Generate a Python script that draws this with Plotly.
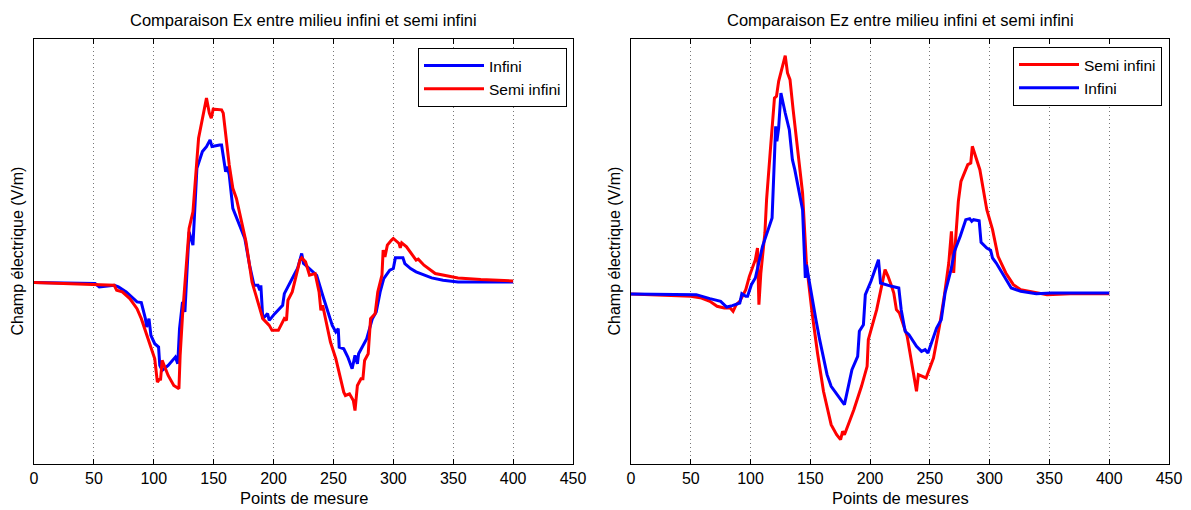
import plotly.graph_objects as go

# ---------------- Data (arbitrary field units; no y tick labels in source) ----------------
ex_inf_x = [0, 51, 54.5, 67, 70.5, 77, 86, 89.6, 93, 94, 96, 97.6, 100.8, 104, 105, 107, 112, 118, 120,
            121.5, 124, 126, 128, 129.5, 132.7, 134, 136, 140.6, 144, 147, 148.6, 155, 156.6, 160, 161.4,
            163, 166, 176, 180, 183.7, 187, 188.5, 189.4, 191, 195, 196.4, 201, 207.6, 209, 217, 220,
            223.5, 225, 226.7, 231.5, 233, 236, 241, 249, 252, 254, 254.8, 258.6, 262, 265.6, 268, 270,
            271, 277.8, 282.5, 285.7, 289, 292, 297, 300, 301.7, 308, 309.6, 314.4, 319, 325.6, 332,
            341.5, 354, 400]
ex_inf_y = [0, -0.03, -0.13, -0.08, -0.13, -0.28, -0.58, -0.60, -1.08, -1.33, -1.08, -1.58, -1.83, -1.93,
            -2.48, -2.63, -2.48, -2.23, -2.43, -1.38, -0.58, -0.88, 0.52, 1.52, 1.12, 2.12, 3.42, 3.92,
            4.07, 4.27, 4.07, 4.12, 4.12, 3.32, 3.47, 3.22, 2.22, 1.32, 0.52, -0.08, -0.08, -0.23, -0.08,
            -1.08, -0.93, -1.13, -0.93, -0.68, -0.33, 0.22, 0.42, 0.87, 0.57, 0.52, 0.37, 0.32, 0.22,
            -0.38, -1.28, -1.48, -1.38, -1.93, -1.98, -2.23, -2.58, -2.18, -2.43, -2.13, -1.68, -1.08,
            -0.88, -0.28, 0.12, 0.37, 0.42, 0.74, 0.74, 0.57, 0.42, 0.32, 0.22, 0.14, 0.07, 0.02, 0.02]

ex_semi_x = [0, 67, 69, 73.7, 80, 86, 89.6, 94, 100.8, 103, 105, 105.6, 107, 112, 116.7, 121, 122, 124,
             128, 129.5, 132.7, 137.4, 144, 146.4, 148, 149.6, 156.6, 158, 163, 166, 169, 177, 182, 191,
             196.4, 198.7, 204, 209, 210.8, 212, 215.6, 220, 222, 223.5, 226.7, 230, 234.7, 238, 239.5,
             241, 247.5, 252, 258.6, 260, 263.4, 266.6, 268, 270, 273, 274.6, 276, 279, 281, 284.8, 287,
             290.5, 291.5, 293, 295, 298.5, 300, 304.8, 305.8, 307, 311, 316, 319, 320.8, 325.6, 335,
             354, 373, 400]
ex_semi_y = [0, -0.08, -0.23, -0.28, -0.48, -0.78, -1.08, -1.58, -2.28, -2.98, -2.88, -2.93, -2.33, -2.78,
             -3.08, -3.18, -2.18, -0.98, 0.92, 1.62, 2.12, 4.32, 5.52, 5.07, 4.92, 5.19, 5.17, 5.07, 3.52,
             2.82, 2.52, 1.22, 0.02, -1.08, -1.28, -1.43, -1.43, -1.08, -1.13, -0.53, -0.28, 0.37, 0.67,
             0.74, 0.62, 0.22, 0.27, -0.28, -0.83, -0.68, -1.78, -2.28, -3.28, -3.38, -3.33, -3.53, -3.83,
             -3.08, -2.88, -2.88, -2.33, -2.13, -1.08, -0.93, -0.28, 0.22, 0.97, 0.77, 1.12, 1.27, 1.32,
             1.17, 1.04, 1.19, 1.07, 0.82, 0.67, 0.70, 0.52, 0.27, 0.14, 0.09, 0.05]

ez_semi_x = [0, 34, 50, 59, 66, 72, 78, 83, 85.4, 88, 91, 96, 99, 104, 105.8, 107, 108.6, 112, 113.4,
             116.6, 120, 121.7, 123.5, 129, 130.9, 133, 135.6, 143.5, 146.7, 151.5, 156, 161, 167.4, 172,
             175.3, 177, 178.5, 181.7, 186.4, 192.8, 197.5, 198.5, 205.5, 212.5, 215, 218, 219.8, 222,
             224.5, 231, 236.6, 238.8, 240.4, 243.6, 246.8, 253, 258, 262, 265.8, 268, 269.9, 271.5,
             273.8, 276, 281.7, 284.2, 285.5, 291.8, 297.6, 302.4, 307, 313.5, 319.8, 326, 339, 348,
             367.5, 400]
ez_semi_y = [0, -0.04, -0.07, -0.12, -0.22, -0.37, -0.42, -0.42, -0.52, -0.32, -0.22, 0.13, 0.53, 1.03,
             1.38, -0.32, 0.63, 1.83, 2.83, 4.33, 5.88, 5.93, 6.38, 7.15, 6.63, 6.43, 5.53, 3.03, 0.93,
             -0.57, -1.77, -2.92, -3.92, -4.22, -4.37, -4.12, -4.22, -3.92, -3.47, -2.77, -2.17, -1.37,
             -0.47, 0.73, 0.53, 0.23, 0.03, -0.47, -0.57, -1.27, -2.42, -2.92, -2.42, -2.47, -2.52, -1.92,
             -0.97, -0.07, 0.93, 1.88, 0.63, 1.63, 2.78, 3.38, 3.88, 3.93, 4.43, 3.73, 2.53, 1.93, 1.13,
             0.63, 0.28, 0.13, 0.03, -0.02, 0.01, 0.01]

ez_inf_x = [0, 34, 53, 54.6, 66, 75, 80, 84.8, 91, 92.7, 96, 97.5, 100.7, 104, 110, 118, 121, 122, 123.5,
            125.4, 129, 132.4, 135, 137, 143.5, 145.8, 146.7, 148.3, 154.7, 157.8, 164, 167.4, 178.5,
            184.8, 189.6, 191, 194.4, 196, 200.7, 207, 208.7, 218, 224, 226, 229.3, 232.5, 238.8, 243,
            246, 248.4, 251.5, 255.6, 259.5, 262.7, 267.7, 270.6, 275.4, 280, 283.3, 285, 286.5, 291.2,
            292.8, 297.6, 300.8, 302.4, 305.5, 312, 318, 326, 339, 351.6, 400]
ez_inf_y = [0, -0.02, -0.04, -0.02, -0.14, -0.22, -0.39, -0.35, -0.27, 0.01, -0.07, -0.07, 0.28, 0.48,
            1.43, 2.28, 5.03, 4.58, 4.98, 6.03, 5.43, 4.93, 4.03, 3.73, 2.53, 0.48, 0.88, 0.53, -0.77,
            -1.37, -2.42, -2.77, -3.32, -2.27, -1.87, -1.12, -0.92, -0.02, 0.38, 1.03, 0.33, 0.23, 0.18,
            -0.47, -1.12, -1.22, -1.57, -1.72, -1.67, -1.77, -1.47, -1.02, -0.77, 0.03, 0.73, 1.28, 1.73,
            2.23, 2.26, 2.18, 2.23, 2.20, 1.55, 1.38, 1.31, 1.08, 0.93, 0.53, 0.18, 0.08, 0.01, 0.03, 0.03]

x_ticks = [0, 50, 100, 150, 200, 250, 300, 350, 400, 450]

titles = ["Comparaison Ex entre milieu infini et semi infini",
          "Comparaison Ez entre milieu infini et semi infini"]
x_titles = ["Points de mesure", "Points de mesures"]
y_title = "Champ électrique (V/m)"

BLUE = "#0000FF"
RED = "#FF0000"
FONT = "Arial, Liberation Sans, sans-serif"

W, H = 1191, 510
L1, R1 = 34, 573
L2, R2 = 631, 1169
TOP, BOT = 39, 464


def px_x(p):
    return p / W


def px_y(p):
    return (H - p) / H


fig = go.Figure()

fig.add_trace(go.Scatter(x=ex_inf_x, y=ex_inf_y, mode="lines", name="Infini",
                         line=dict(color=BLUE, width=3), xaxis="x", yaxis="y", legend="legend"))
fig.add_trace(go.Scatter(x=ex_semi_x, y=ex_semi_y, mode="lines", name="Semi infini",
                         line=dict(color=RED, width=3), xaxis="x", yaxis="y", legend="legend"))
fig.add_trace(go.Scatter(x=ez_semi_x, y=ez_semi_y, mode="lines", name="Semi infini",
                         line=dict(color=RED, width=3), xaxis="x2", yaxis="y2", legend="legend2"))
fig.add_trace(go.Scatter(x=ez_inf_x, y=ez_inf_y, mode="lines", name="Infini",
                         line=dict(color=BLUE, width=3), xaxis="x2", yaxis="y2", legend="legend2"))

xcommon = dict(range=[0, 450], tickvals=x_ticks, ticks="inside", ticklen=5, tickcolor="black",
               showline=True, linecolor="black", linewidth=1, mirror="allticks",
               showgrid=True, gridcolor="#777777", griddash="1px,3px", gridwidth=1,
               zeroline=False, automargin=False,
               tickfont=dict(family=FONT, size=16, color="black"))
ycommon = dict(showticklabels=False, ticks="", showline=True, linecolor="black", linewidth=1,
               mirror=True, showgrid=False, zeroline=False, automargin=False)

ydom = [px_y(BOT), px_y(TOP)]

legcommon = dict(bgcolor="white", bordercolor="black", borderwidth=1,
                 font=dict(family=FONT, size=15.5, color="black"),
                 xanchor="right", yanchor="top", tracegroupgap=0, itemwidth=60)

fig.update_layout(
    width=W, height=H,
    margin=dict(l=0, r=0, t=0, b=0, autoexpand=False),
    paper_bgcolor="white", plot_bgcolor="white",
    xaxis=dict(domain=[px_x(L1), px_x(R1)], anchor="y", **xcommon),
    yaxis=dict(domain=ydom, anchor="x", range=[-5.43, 7.29], **ycommon),
    xaxis2=dict(domain=[px_x(L2), px_x(R2)], anchor="y2", **xcommon),
    yaxis2=dict(domain=ydom, anchor="x2", range=[-5.10, 7.65], **ycommon),
    legend=dict(x=px_x(567), y=px_y(48), **legcommon),
    legend2=dict(x=px_x(1162), y=px_y(47), **legcommon),
    showlegend=True,
)

annots = []
for (l, r), t, xt in zip([(L1, R1), (L2, R2)], titles, x_titles):
    cx = px_x((l + r) / 2)
    annots.append(dict(text=t, x=cx, y=px_y(20), xref="paper", yref="paper",
                       xanchor="center", yanchor="middle", showarrow=False,
                       font=dict(family=FONT, size=16.5, color="black")))
    annots.append(dict(text=xt, x=cx, y=px_y(498), xref="paper", yref="paper",
                       xanchor="center", yanchor="middle", showarrow=False,
                       font=dict(family=FONT, size=16.5, color="black")))
    annots.append(dict(text=y_title, x=px_x(l - 17), y=px_y((TOP + BOT) / 2), xref="paper",
                       yref="paper", xanchor="center", yanchor="middle", showarrow=False,
                       textangle=-90, font=dict(family=FONT, size=16, color="black")))
fig.update_layout(annotations=annots)

fig.write_html("out.html", config={"displayModeBar": False},
               post_script="document.body.style.margin='0px';")
